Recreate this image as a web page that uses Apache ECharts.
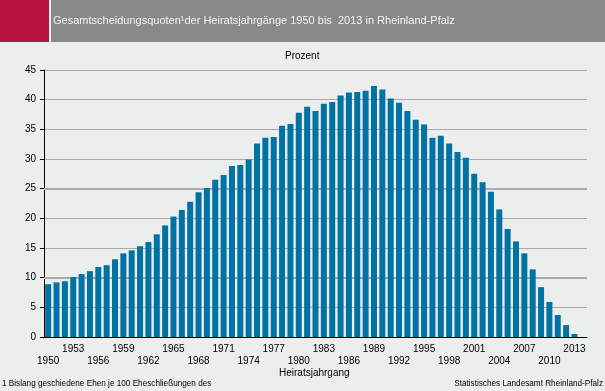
<!DOCTYPE html>
<html><head><meta charset="utf-8">
<script src="https://cdn.jsdelivr.net/npm/echarts@6/dist/echarts.min.js"></script>
<style>html,body{margin:0;padding:0;background:#ECEDED}#c{width:605px;height:391px}</style>
</head><body><div id="c"></div>
<script>
const years = [];
for (let y = 1950; y <= 2013; y++) years.push(String(y));
const values = [
  8.9, 9.2, 9.4, 10.1, 10.6, 11.1, 11.8, 12.1, 13.1, 14.1,
  14.6, 15.3, 16.0, 17.3, 18.8, 20.3, 21.4, 22.8, 24.4, 25.1,
  26.5, 27.3, 28.8, 29.0, 29.9, 32.6, 33.6, 33.7, 35.6, 35.9,
  37.8, 38.8, 38.1, 39.3, 39.6, 40.7, 41.2, 41.3, 41.5, 42.3,
  41.7, 40.2, 39.5, 38.1, 36.6, 35.8, 33.6, 33.9, 32.6, 31.2,
  30.2, 27.5, 26.1, 24.5, 21.5, 18.2, 16.1, 14.1, 11.4, 8.4,
  5.9, 3.7, 2.0, 0.5
];
const yTicks = [0, 5, 10, 15, 20, 25, 30, 35, 40, 45];
const emphasisLines = [10, 25];
const titleText = 'Gesamtscheidungsquoten\u00B9der Heiratsjahrg\u00E4nge 1950 bis  2013 in Rheinland-Pfalz';
const unitText = 'Prozent';
const xName = 'Heiratsjahrgang';
const footLeft = '1 Bislang geschiedene Ehen je 100 Eheschlie\u00DFungen des';
const footRight = 'Statistisches Landesamt Rheinland-Pfalz';

const categories = years.concat(['']);
const chart = echarts.init(document.getElementById('c'));
const font = 'Liberation Sans, Arial, sans-serif';
chart.setOption({
  backgroundColor: '#ECEDED',
  animation: false,
  grid: {left: 44, right: 18, top: 70, bottom: 54},
  xAxis: {
    type: 'category', data: categories, boundaryGap: true,
    axisLine: {lineStyle: {color: '#000', width: 1}},
    axisTick: {interval: 2, length: 4, lineStyle: {color: '#000'}},
    axisLabel: {
      interval: 2, color: '#000', fontFamily: font, fontSize: 10, margin: 6, lineHeight: 12,
      formatter: (v, i) => ((i / 3) % 2 === 1 ? v : '\n' + v)
    }
  },
  yAxis: {
    type: 'value', min: yTicks[0], max: yTicks[yTicks.length - 1], interval: 5,
    axisLine: {show: true, lineStyle: {color: '#000'}},
    axisTick: {show: true, length: 4, lineStyle: {color: '#000'}},
    axisLabel: {color: '#000', fontFamily: font, fontSize: 10, margin: 8},
    splitLine: {lineStyle: {color: '#ABABAB', width: 1}}
  },
  series: [
    {
      type: 'line', data: [], z: 1, silent: true,
      markLine: {
        silent: true, symbol: 'none', label: {show: false}, z: 1,
        lineStyle: {color: '#ABABAB', width: 2, type: 'solid'},
        data: emphasisLines.map(v => ({yAxis: v}))
      }
    },
    {
      type: 'bar', data: values, barWidth: 6, z: 3,
      itemStyle: {color: '#0072A3'}
    }
  ],
  graphic: [
    {type: 'rect', shape: {x: 0, y: 0, width: 49, height: 42}, style: {fill: '#B5123E'}},
    {type: 'rect', shape: {x: 51, y: 0, width: 554, height: 42}, style: {fill: '#898989'}},
    {type: 'text', left: 53, top: 15, style: {text: titleText, fill: '#F4F4F4', font: '11px ' + font}},
    {type: 'text', left: 285, top: 51, style: {text: unitText, fill: '#000', font: '10px ' + font}},
    {type: 'text', left: 279, top: 368, style: {text: xName, fill: '#000', font: '10px ' + font}},
    {type: 'text', left: 2, top: 380, style: {text: footLeft, fill: '#000', font: '8.2px ' + font}},
    {type: 'text', right: 2, top: 380, style: {text: footRight, fill: '#000', font: '8.2px ' + font}}
  ]
});
</script></body></html>
